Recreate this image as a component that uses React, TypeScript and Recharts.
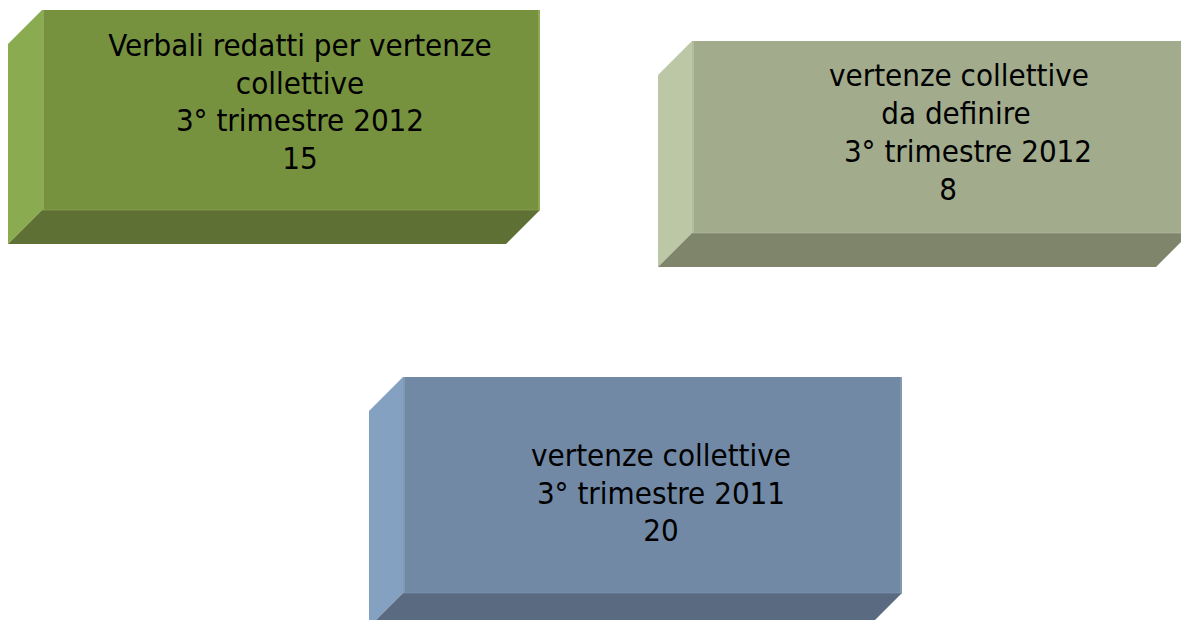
import React from "react";
import { ScatterChart, Scatter, XAxis, YAxis } from "recharts";

// ---- data ----
const boxTitles: string[][] = [
  ["Verbali redatti per vertenze", "collettive", "3° trimestre 2012"],
  ["vertenze collettive", "da definire", "3° trimestre 2012"],
  ["vertenze collettive", "3° trimestre 2011"],
];
const boxValues: number[] = [15, 8, 20];

// ---- layout / style (not data) ----
const W = 1181;
const H = 620;
const DEPTH = 34;
const boxLayout = [
  { x: 42, y: 10, w: 498, h: 200, textX: 300, baseY: 56, gap: 37.5, lineDx: [0, 0, 0, 0], front: "#77923f", side: "#8aab50", bottom: "#5e7033", edge: "#8fa85a" },
  { x: 692, y: 41, w: 498, h: 192, textX: 959, baseY: 86, gap: 38, lineDx: [0, -3, 9, -11], front: "#a2ac8d", side: "#bcc8a5", bottom: "#7e856b", edge: "#b3bc9f" },
  { x: 403, y: 377, w: 499, h: 216, textX: 661, baseY: 466, gap: 37.5, lineDx: [0, 0, 0], front: "#7189a5", side: "#84a1c1", bottom: "#5a6a80", edge: "#8398b1" },
];

const points = boxLayout.map((b, i) => ({
  x: b.x,
  y: b.y,
  idx: i,
}));

const FONT = "'DejaVu Sans Condensed', 'DejaVu Sans', Verdana, sans-serif";

const BoxShape = (props: any) => {
  const { cx, cy, payload } = props;
  if (cx == null || cy == null || !payload) return <g />;
  const i = payload.idx;
  const b = boxLayout[i];
  const x = cx;
  const y = cy;
  const { w, h } = b;
  const d = DEPTH;
  const lines = [...boxTitles[i], String(boxValues[i])];
  const dyOff = b.baseY - b.y;
  const tx = x + (b.textX - b.x);
  return (
    <g>
      <polygon points={`${x - d},${y + d} ${x},${y} ${x},${y + h} ${x - d},${y + h + d}`} fill={b.side} />
      <rect x={x} y={y} width={w} height={h} fill={b.front} />
      <polygon points={`${x},${y + h} ${x + w},${y + h} ${x + w - d},${y + h + d} ${x - d},${y + h + d}`} fill={b.bottom} />
      <line x1={x + 1} y1={y} x2={x + 1} y2={y + h} stroke={b.edge} strokeWidth={2} />
      <line x1={x + w - 1} y1={y} x2={x + w - 1} y2={y + h} stroke={b.edge} strokeWidth={2} />
      <line x1={x} y1={y + h} x2={x + w} y2={y + h} stroke={b.edge} strokeWidth={1} opacity={0.6} />
      {lines.map((t, k) => (
        <text
          key={k}
          x={tx + (b.lineDx[k] || 0)}
          y={y + dyOff + k * b.gap}
          textAnchor="middle"
          fontFamily={FONT}
          fontSize={31}
          fill="#000"
        >
          {t}
        </text>
      ))}
    </g>
  );
};

export default function App() {
  return (
    <div style={{ position: "absolute", left: 0, top: 0, width: W, height: H, background: "#fff" }}>
      <ScatterChart width={W} height={H} margin={{ top: 0, right: 0, bottom: 0, left: 0 }}>
        <XAxis type="number" dataKey="x" domain={[0, W]} hide allowDataOverflow />
        <YAxis type="number" dataKey="y" domain={[0, H]} reversed hide allowDataOverflow />
        <Scatter data={points} shape={BoxShape} isAnimationActive={false} />
      </ScatterChart>
    </div>
  );
}
